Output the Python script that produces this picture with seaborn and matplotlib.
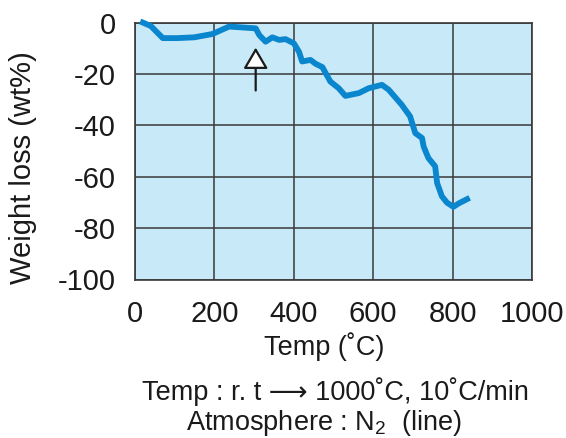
import matplotlib
matplotlib.use("Agg")
import matplotlib.pyplot as plt
import seaborn as sns
import pandas as pd

temp = [13, 40, 70, 107, 149, 195, 237, 304, 313, 329, 346, 363, 379, 400, 413, 421,
        442, 455, 472, 492, 513, 530, 564, 589, 622, 639, 672, 693, 706, 723, 727,
        739, 756, 761, 773, 786, 802, 815, 843]
weight_loss = [0.5, -1.3, -6, -6, -5.7, -4.4, -1.5, -2.2, -4.8, -7.4, -5.7, -6.7, -6.4,
               -8, -11.3, -15.1, -14.5, -16, -17.3, -22.9, -25.5, -28.5, -27.4, -25.5,
               -24.2, -26.1, -32, -36.5, -43, -44.9, -48.2, -52.7, -55.9, -62.4, -67.6,
               -70.1, -71.7, -70.4, -68.2]
x_ticks = [0, 200, 400, 600, 800, 1000]
y_ticks = [0, -20, -40, -60, -80, -100]
arrow_temp = 304
arrow_tip = -9.7
arrow_tail = -26.4

sns.set_style("white", {"axes.facecolor": "#C8E9F8", "axes.edgecolor": "#3a3a3a",
                        "grid.color": "#3a3a3a"})
plt.rcParams["font.family"] = ["Liberation Sans", "DejaVu Sans"]
plt.rcParams["mathtext.fontset"] = "custom"
plt.rcParams["mathtext.rm"] = "Liberation Sans"
plt.rcParams["mathtext.it"] = "Liberation Sans"

FS = 21
FS2 = 19.5
fig = plt.figure(figsize=(5.66, 4.38), dpi=100)
ax = fig.add_axes([135/566, 1-279.5/438, (532-135)/566, (279.5-22.7)/438])

df = pd.DataFrame({"Temp": temp, "Weight loss": weight_loss})
sns.lineplot(data=df, x="Temp", y="Weight loss", sort=False, color="#0A86CF",
             linewidth=4.2, ax=ax, solid_capstyle="butt", zorder=3, clip_on=False)

ax.set_xlim(0, 1000)
ax.set_ylim(-100, 0)
ax.set_xticks(x_ticks)
ax.set_yticks(y_ticks)
ax.set_xticklabels([str(v) for v in x_ticks])
ax.set_yticklabels([str(v) for v in y_ticks])
ax.grid(True, color="#3a3a3a", linewidth=1.1)
ax.set_axisbelow(True)
for s in ax.spines.values():
    s.set_visible(True)
    s.set_color("#3a3a3a")
    s.set_linewidth(1.2)
ax.tick_params(axis="both", length=0, labelsize=FS, colors="#1a1a1a")
ax.tick_params(axis="y", pad=14)
ax.tick_params(axis="x", pad=15)
ax.set_xlabel("Temp (˚C)", fontsize=FS2, color="#1a1a1a")
ax.set_ylabel("Weight loss (wt%)", fontsize=FS, color="#1a1a1a")
ax.xaxis.set_label_coords((324-135)/(532-135), -(347-279.5)/(279.5-22.7))
ax.xaxis.label.set_va("center")
ax.yaxis.set_label_coords(-(135-23)/(532-135), (279.5-168)/(279.5-22.7))
ax.yaxis.label.set_va("center")

ax.annotate("", xy=(arrow_temp, arrow_tip), xytext=(arrow_temp, arrow_tail),
            arrowprops=dict(arrowstyle="-|>,head_length=0.65,head_width=0.38",
                            mutation_scale=20,
                            facecolor="white", edgecolor="#1a1a1a", lw=1.6,
                            shrinkA=0, shrinkB=0), zorder=4)

fig.text(335/566, 1-392/438, "Temp : r. t \u27f6 1000˚C, 10˚C/min", ha="center",
         va="center", fontsize=FS2, color="#1a1a1a")
fig.text(324/566, 1-423/438, "Atmosphere : N$_2$  (line)", ha="center", va="center",
         fontsize=FS2, color="#1a1a1a")

fig.savefig("out.png", dpi=100)
